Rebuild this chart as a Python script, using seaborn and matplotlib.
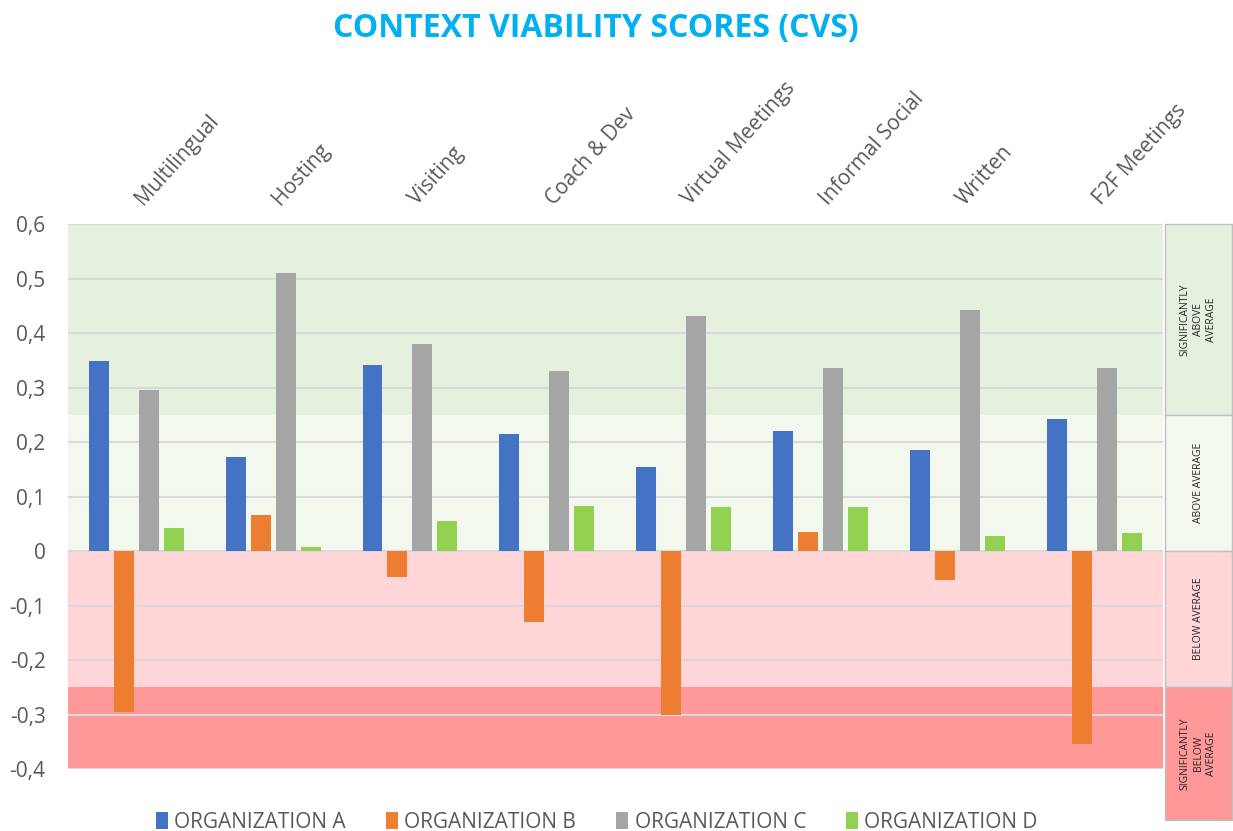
import matplotlib
matplotlib.use("Agg")
import matplotlib.pyplot as plt
import matplotlib.transforms as mtransforms
import seaborn as sns
import pandas as pd
from matplotlib.patches import Rectangle
from matplotlib.ticker import FuncFormatter, MultipleLocator

categories = ["Multilingual", "Hosting", "Visiting", "Coach & Dev",
              "Virtual Meetings", "Informal Social", "Written", "F2F Meetings"]
series = ["ORGANIZATION A", "ORGANIZATION B", "ORGANIZATION C", "ORGANIZATION D"]
org_a = [0.348, 0.172, 0.342, 0.214, 0.155, 0.221, 0.186, 0.242]
org_b = [-0.295, 0.066, -0.048, -0.130, -0.300, 0.034, -0.053, -0.354]
org_c = [0.296, 0.510, 0.380, 0.330, 0.431, 0.336, 0.442, 0.336]
org_d = [0.043, 0.007, 0.055, 0.082, 0.080, 0.080, 0.028, 0.033]
colors = ["#4472C4", "#ED7D31", "#A5A5A5", "#92D050"]

bands = [(0.25, 0.6, "#E6F0DF", "SIGNIFICANTLY\nABOVE\nAVERAGE"),
         (0.0, 0.25, "#F3F8EE", "ABOVE AVERAGE"),
         (-0.25, 0.0, "#FFD5D8", "BELOW AVERAGE"),
         (-0.4, -0.25, "#FF9999", "SIGNIFICANTLY\nBELOW\nAVERAGE")]

rows = []
for s, vals in zip(series, [org_a, org_b, org_c, org_d]):
    for c, v in zip(categories, vals):
        rows.append({"category": c, "org": s, "value": v})
df = pd.DataFrame(rows)

sns.set_theme(style="white")
plt.rcParams["font.family"] = ["Open Sans", "DejaVu Sans"]

fig = plt.figure(figsize=(12.33, 8.31), dpi=100)
ax = fig.add_axes([0.055, 0.0746, 0.888, 0.6558])

for lo, hi, col, _ in bands:
    ax.axhspan(lo, hi, color=col, zorder=0, lw=0)

sns.barplot(data=df, x="category", y="value", hue="org", order=categories,
            hue_order=series, palette=colors, width=0.73, gap=0.2,
            saturation=1, ax=ax, zorder=3, legend=True, edgecolor="none")

ax.set_ylim(-0.4, 0.6)
ax.set_xlim(-0.5, len(categories) - 0.5)
ax.yaxis.set_major_locator(MultipleLocator(0.1))
ax.yaxis.set_major_formatter(FuncFormatter(
    lambda v, p: "0" if abs(v) < 1e-9 else f"{v:.1f}".replace(".", ",")))
ax.grid(axis="y", color="#D9D9D9", lw=1.5, zorder=1)
ax.set_axisbelow(False)
for gl in ax.get_ygridlines():
    gl.set_zorder(1)
for sp in ax.spines.values():
    sp.set_visible(False)
ax.set_xlabel("")
ax.set_ylabel("")
ax.tick_params(axis="y", length=0, labelsize=15, labelcolor="#595959", pad=16)
ax.xaxis.tick_top()
ax.tick_params(axis="x", length=0, labelsize=15, labelcolor="#595959", pad=13)
shift = mtransforms.ScaledTranslation(7 / 100, 0, fig.dpi_scale_trans)
for lab in ax.get_xticklabels():
    lab.set_rotation(48)
    lab.set_ha("left")
    lab.set_va("baseline")
    lab.set_rotation_mode("anchor")
    lab.set_transform(lab.get_transform() + shift)

# Right-side band labels
trans = ax.get_yaxis_transform()
x0, x1 = 1.0018, 1.063
for lo, hi, col, txt in bands:
    bottom = lo if lo > -0.4 else -0.494
    ax.add_patch(Rectangle((x0, bottom), x1 - x0, hi - bottom, transform=trans,
                           facecolor=col, edgecolor="#BFBFBF", lw=1,
                           clip_on=False, zorder=2))
    ax.text((x0 + x1) / 2, (bottom + hi) / 2, txt, transform=trans,
            rotation=90, ha="center", va="center", fontsize=7.5,
            color="#262626", linespacing=1.3, clip_on=False)

handles, labels = ax.get_legend_handles_labels()
ax.get_legend().remove()
fig.legend(handles, labels, loc="lower center", bbox_to_anchor=(0.484, -0.025),
           ncol=4, frameon=False, fontsize=15, labelcolor="#595959",
           handlelength=0.6, handleheight=0.9, handletextpad=0.3,
           columnspacing=1.9)

fig.text(0.483, 0.966, "CONTEXT VIABILITY SCORES (CVS)", ha="center",
         va="center", fontsize=23, fontweight="bold", color="#00B0F0")

fig.savefig("out.png", dpi=100)
